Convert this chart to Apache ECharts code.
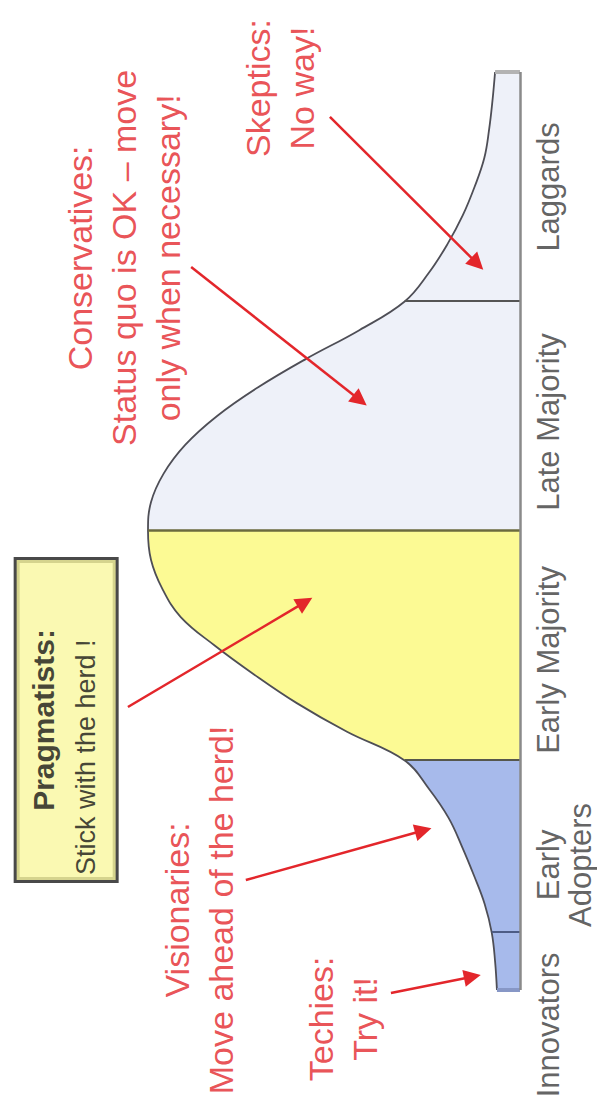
<!DOCTYPE html>
<html>
<head>
<meta charset="utf-8">
<script src="https://cdn.jsdelivr.net/npm/echarts@6/dist/echarts.min.js"></script>
<style>
  html, body { margin: 0; padding: 0; background: #fff; overflow: hidden; width: 597px; height: 1113px; }
  /* The chart is laid out landscape and turned a quarter turn so it reads bottom-to-top */
  #chart { position: absolute; left: 0; top: 0; width: 1113px; height: 597px;
           transform-origin: 0 0; transform: translateY(1113px) rotate(-90deg); }
</style>
</head>
<body>
<div id="chart"></div>
<script>
// ---- Data -------------------------------------------------------------
// Adopter groups, left to right along the curve
const stages = ['Innovators', 'Early\nAdopters', 'Early Majority', 'Late Majority', 'Laggards'];
// Group boundaries, in standard deviations from the mean
const stageEdges = [-2, -1.75, -1, 0, 1, 2];
// Bell curve: position (sd from the mean) and relative height (peak = 100)
const curveX = [-2.000, -1.875, -1.750, -1.625, -1.500, -1.375, -1.250, -1.125, -1.000,
                -0.875, -0.750, -0.625, -0.500, -0.375, -0.250, -0.125, 0,
                0.125, 0.250, 0.375, 0.500, 0.625, 0.750, 0.875, 1.000,
                1.125, 1.250, 1.375, 1.500, 1.625, 1.750, 1.875, 2.000];
const curveY = [6.2, 6.7, 7.6, 9.5, 12.4, 15.6, 19.2, 24.4, 31.0,
                46.5, 60.0, 71.5, 82.0, 91.2, 96.2, 99.2, 100,
                99.2, 95.8, 90.0, 81.5, 70.5, 57.5, 43.2, 31.0,
                24.5, 19.5, 15.4, 12.2, 9.6, 8.3, 7.4, 6.7];
// Callout texts
const noteTexts = [
  'Conservatives:\nStatus quo is OK \u2013 move\nonly when necessary!',
  'Skeptics:\nNo way!',
  'Visionaries:\nMove ahead of the herd!',
  'Techies:\nTry it!'
];
const boxTitle = 'Pragmatists:';
const boxText = 'Stick with the herd !';

// ---- Layout -----------------------------------------------------------
const W = 1113, H = 597;
const MEAN_PX = 582, PX_PER_SD = 229.5;     // horizontal placement of the mean / scale
const BASE_PX = 520, PX_PER_UNIT = 3.72;    // baseline from top / vertical scale
const xMin = -MEAN_PX / PX_PER_SD, xMax = (W - MEAN_PX) / PX_PER_SD;
const yMax = BASE_PX / PX_PER_UNIT, yMin = -(H - BASE_PX) / PX_PER_UNIT;

// label anchors (sd position) for the group names
const stageLabelAt = [-2.152, -1.455, -0.562, 0.475, 1.499];
// callout text anchors [sd, height]
const noteAt = [[1.190, 106.5], [1.930, 64.5], [-1.651, 86.4], [-2.126, 47.6]];
const boxAt = [-0.8235, 122.0];
// callout arrows: tail -> head, [sd, height]
const arrowAt = [
  [[1.804, 51.1], [1.165, 11.5]],
  [[1.150, 88.4], [0.570, 43.0]],
  [[-0.767, 105.4], [-0.310, 57.8]],
  [[-1.521, 73.7], [-1.305, 26.0]],
  [[-2.013, 34.7], [-1.942, 12.8]]
];

const FONT = "'Liberation Sans', Arial, Helvetica, sans-serif";
const BLUE = '#a7baeb', YELLOW = '#fcfa94', PALE = '#eef1f9';
const RED = '#e3262b';

const curve = curveX.map((x, i) => [x, curveY[i]]);
const heightAt = x => curveY[curveX.indexOf(x)];

const edgeStyles = [
  { color: '#8797c6', width: 4 },
  { color: '#4d5c86', width: 2 },
  { color: '#56574c', width: 2 },
  { color: '#6b6a3e', width: 2.5 },
  { color: '#555555', width: 2 },
  { color: '#b3b3b3', width: 4 }
];
const dividerData = stageEdges.map((x, i) => ({
  coords: [[x, 0], [x, heightAt(x)]],
  lineStyle: edgeStyles[i]
}));
dividerData.push({
  coords: [[stageEdges[0], 0], [stageEdges[stageEdges.length - 1], 0]],
  lineStyle: { color: '#8a8a8a', width: 2.5 }
});

const chart = echarts.init(document.getElementById('chart'), null, { renderer: 'svg' });
chart.setOption({
  animation: false,
  backgroundColor: '#ffffff',
  grid: { left: 0, right: 0, top: 0, bottom: 0 },
  xAxis: { type: 'value', min: xMin, max: xMax, show: false },
  yAxis: { type: 'value', min: yMin, max: yMax, show: false },
  visualMap: {
    show: false, type: 'piecewise', dimension: 0, seriesIndex: 0,
    pieces: [
      { lt: stageEdges[2], color: BLUE },
      { gte: stageEdges[2], lt: stageEdges[3], color: YELLOW },
      { gte: stageEdges[3], color: PALE }
    ]
  },
  series: [
    { // coloured areas under the curve
      type: 'line', data: curve, smooth: 0.4, showSymbol: false, z: 1,
      lineStyle: { opacity: 0 }, areaStyle: { opacity: 1 }
    },
    { // the curve outline
      type: 'line', data: curve, smooth: 0.4, showSymbol: false, z: 3,
      lineStyle: { color: '#4e4e56', width: 1.8 }
    },
    { // group dividers, end caps and baseline
      type: 'lines', coordinateSystem: 'cartesian2d', polyline: false, z: 4,
      symbol: 'none', lineStyle: { opacity: 1, curveness: 0 },
      data: dividerData
    },
    { // callout arrows
      type: 'lines', coordinateSystem: 'cartesian2d', polyline: false, z: 5,
      symbol: ['none', 'triangle'], symbolSize: 17,
      lineStyle: { color: RED, width: 2.5, opacity: 1, curveness: 0 },
      itemStyle: { color: RED },
      data: arrowAt.map(a => ({ coords: a }))
    },
    { // group names under the baseline
      type: 'scatter', z: 6, symbolSize: 1, itemStyle: { color: 'rgba(0,0,0,0)' },
      silent: true,
      label: {
        show: true, position: 'bottom', distance: 12, formatter: '{b}',
        fontFamily: FONT, fontSize: 31, lineHeight: 32, color: '#3b3b3b', align: 'center'
      },
      data: stages.map((s, i) => ({ name: s, value: [stageLabelAt[i], 0] }))
    },
    { // callout texts
      type: 'scatter', z: 7, symbolSize: 1, itemStyle: { color: 'rgba(0,0,0,0)' },
      silent: true,
      label: {
        show: true, position: 'inside', formatter: '{b}',
        fontFamily: FONT, fontSize: 34, lineHeight: 44, color: RED, align: 'center'
      },
      data: noteTexts.map((t, i) => ({ name: t, value: noteAt[i] })).concat([{
        name: boxTitle, value: boxAt,
        label: {
          formatter: '{t|' + boxTitle + '}\n{s|' + boxText + '}',
          backgroundColor: '#f9f79f', borderColor: '#1c1c1c', borderWidth: 3,
          padding: [5, 5, 8, 5], width: 310,
          rich: {
            t: { fontFamily: FONT, fontSize: 30, fontWeight: 'bold', lineHeight: 43, color: '#151515', align: 'center' },
            s: { fontFamily: FONT, fontSize: 27, lineHeight: 43, color: '#151515', align: 'left' }
          }
        }
      }])
    }
  ]
});
</script>
</body>
</html>
